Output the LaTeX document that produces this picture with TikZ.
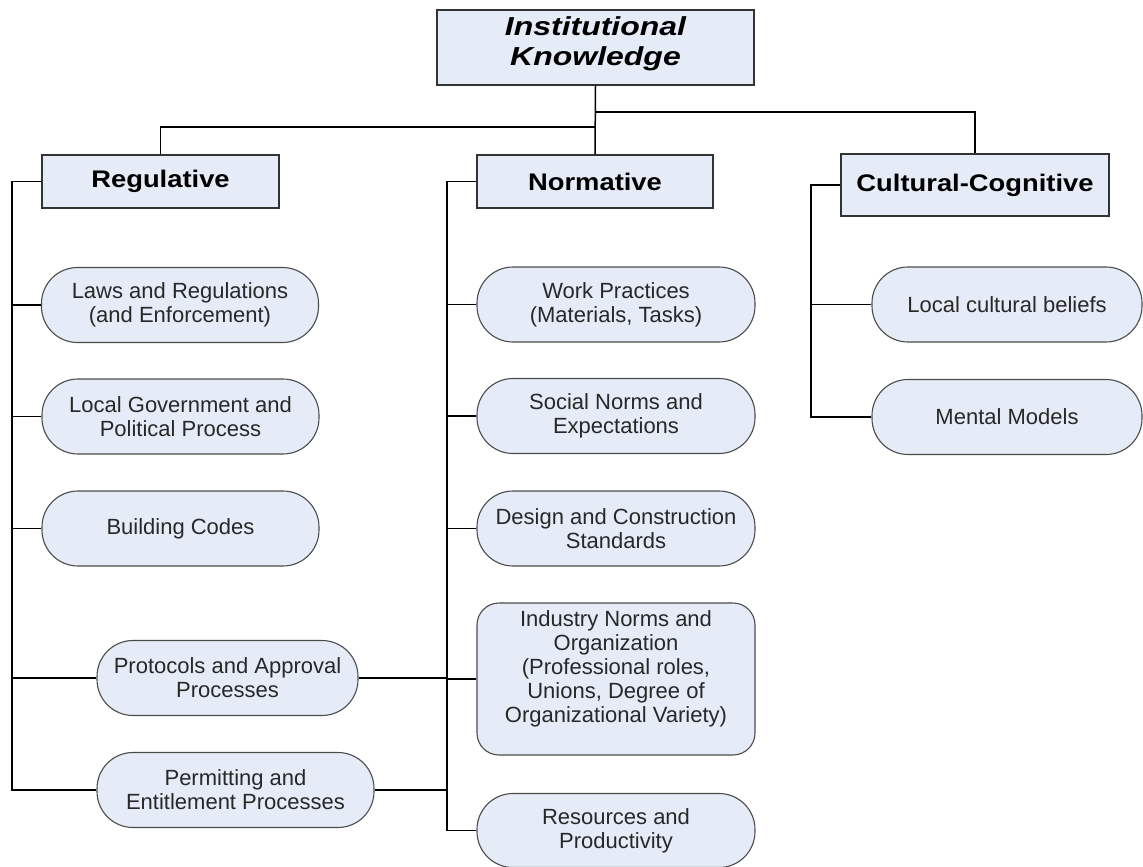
\documentclass[tikz,border=0pt]{standalone}
\usepackage{fontspec}
\setmainfont{Liberation Sans}
\newfontfamily\headfont[FakeStretch=1.14]{Liberation Sans}
\newfontfamily\topfont[FakeStretch=1.23]{Liberation Sans}
\definecolor{boxfill}{RGB}{229,235,247}
\definecolor{pilltext}{RGB}{40,40,40}
\begin{document}
\begin{tikzpicture}[x=1pt,y=-1pt,
  headbox/.style={draw=black!80, line width=1.4pt, fill=boxfill, rectangle, inner sep=0pt, align=center, font=\headfont\bfseries\fontsize{24}{28}\selectfont, text=black},
  pill/.style={draw=black!70, line width=1.1pt, fill=boxfill, rectangle, rounded corners=36pt, inner sep=0pt, align=center, font=\fontsize{22}{24}\selectfont, text=pilltext, minimum width=277pt, minimum height=75pt},
  conn/.style={draw=black, line width=1.5pt}]
\fill[white] (0,0) rectangle (1143,867);
\useasboundingbox (0,0) rectangle (1143,867);

% header boxes
\node[headbox, minimum width=317pt, minimum height=75pt, text depth=12pt, font=\topfont\bfseries\itshape\fontsize{26}{30}\selectfont] (top) at (595.5,47.5) {Institutional\\Knowledge};
\node[headbox, minimum width=237pt, minimum height=53pt] (reg) at (160.5,181.5) {Regulative};
\node[headbox, minimum width=236pt, minimum height=53pt] (norm) at (595,181.5) {Normative};
\node[headbox, minimum width=268pt, minimum height=62pt] (cult) at (975,185) {Cultural-Cognitive};

% regulative pills
\node[pill] (laws) at (180,305) {Laws and Regulations\\(and Enforcement)};
\node[pill] (gov) at (180.5,416.5) {Local Government and\\Political Process};
\node[pill] (bld) at (180.5,528.5) {Building Codes};
\node[pill, minimum width=261pt] (proto) at (227.5,678) {Protocols and Approval\\Processes};
\node[pill] (perm) at (235.5,790) {Permitting and\\Entitlement Processes};

% normative pills
\node[pill, minimum width=278pt] (work) at (616,304.5) {Work Practices\\(Materials, Tasks)};
\node[pill, minimum width=278pt] (social) at (616,416) {Social Norms and\\Expectations};
\node[pill, minimum width=278pt] (design) at (616,528.5) {Design and Construction\\Standards};
\node[pill, minimum width=278pt, rounded corners=22pt, minimum height=152pt, text depth=25pt] (ind) at (616,679) {Industry Norms and\\Organization\\(Professional roles,\\Unions, Degree of\\Organizational Variety)};
\node[pill, minimum width=278pt, minimum height=74pt] (res) at (616,830.5) {Resources and\\Productivity};

% cultural pills
\node[pill, minimum width=270pt] (loc) at (1007,304.5) {Local cultural beliefs};
\node[pill, minimum width=270pt] (ment) at (1007,417) {Mental Models};

% bus coordinates
\coordinate (rbus) at (12,0);
\coordinate (nbus) at (447,0);
\coordinate (cbus) at (811,0);
\coordinate (lvlA) at (0,127);
\coordinate (lvlB) at (0,112);

% connectors
\draw[conn] (top.south) -- (norm.north);
\draw[conn] (top.south |- lvlA) -| (reg.north);
\draw[conn] (top.south |- lvlB) -| (cult.north);

\draw[conn] (reg.west) -| (perm.west -| rbus) -- (perm.west);
\foreach \n in {laws,gov,bld,proto} \draw[conn] (\n.west -| rbus) -- (\n.west);

\draw[conn] (norm.west) -| (res.west -| nbus) -- (res.west);
\foreach \n in {work,social,design,ind} \draw[conn] (\n.west -| nbus) -- (\n.west);
\draw[conn] (proto.east) -- (proto.east -| nbus);
\draw[conn] (perm.east) -- (perm.east -| nbus);

\draw[conn] (cult.west) -| (ment.west -| cbus) -- (ment.west);
\draw[conn] (loc.west -| cbus) -- (loc.west);
\end{tikzpicture}
\end{document}
